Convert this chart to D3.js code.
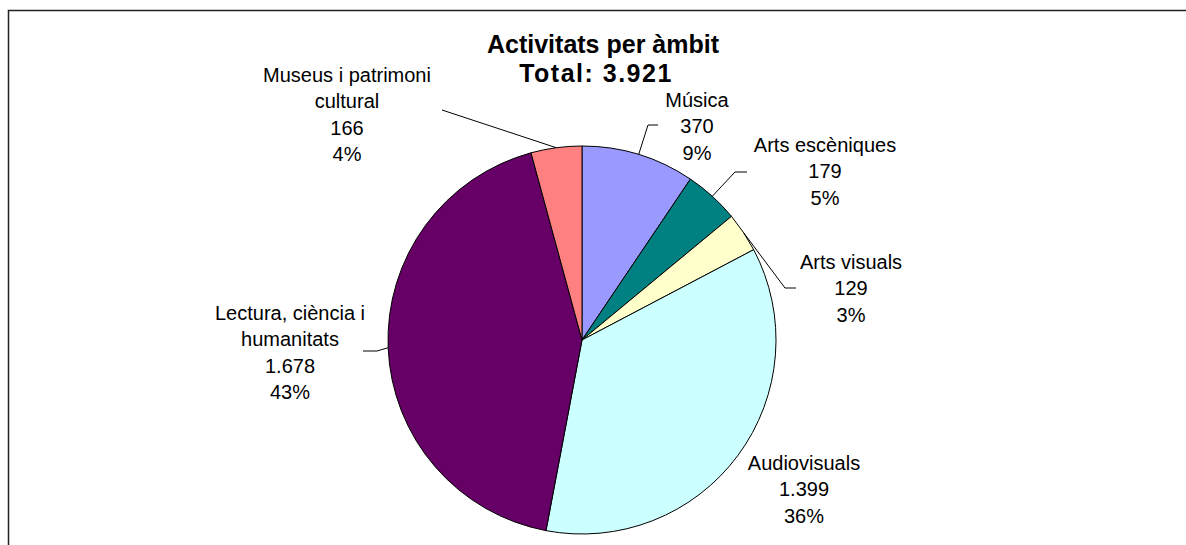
<!DOCTYPE html>
<html>
<head>
<meta charset="utf-8">
<script src="https://cdn.jsdelivr.net/npm/d3@7"></script>
<style>
  body { margin: 0; background: #fff; }
  svg { display: block; font-family: "Liberation Sans", Arial, sans-serif; }
</style>
</head>
<body>
<svg width="1186" height="545"></svg>
<script>
var categories = ["Música", "Arts escèniques", "Arts visuals", "Audiovisuals", "Lectura, ciència i humanitats", "Museus i patrimoni cultural"];
var values = [370, 179, 129, 1399, 1678, 166];
var percents = ["9%", "5%", "3%", "36%", "43%", "4%"];
var valueLabels = ["370", "179", "129", "1.399", "1.678", "166"];
// label text split in lines like the original
var nameLines = [["Música"], ["Arts escèniques"], ["Arts visuals"], ["Audiovisuals"], ["Lectura, ciència i", "humanitats"], ["Museus i patrimoni", "cultural"]];
var colors = ["#9999FF", "#008080", "#FFFFCC", "#CCFFFF", "#660066", "#FF8080"];
var titleLines = ["Activitats per àmbit", "Total: 3.921"];

var svg = d3.select("svg");

var cx = 582, cy = 340, R = 194;
var LINE = 26.3;

// label layout: centre x, first baseline y, leader bend point + end point (null = no leader)
var labelLayout = [
    { x: 697, y: 107, leader: [[648, 125], [658, 125]] },
    { x: 825, y: 152, leader: [[735, 172], [747, 172]] },
    { x: 851, y: 269, leader: [[785, 288], [796, 288]] },
    { x: 804, y: 470, leader: null },
    { x: 290, y: 320, leader: [[377, 351], [363, 351]] },
    { x: 347, y: 82, leader: [[442, 110]] }
];

// chart frame (runs off right/bottom)
svg.append("rect")
    .attr("x", 8.5)
    .attr("y", 10.5)
    .attr("width", 1300)
    .attr("height", 700)
    .attr("fill", "none")
    .attr("stroke", "#222")
    .attr("stroke-width", 1.5);

var pie = d3.pie().sort(null).value(function (d) { return d; });
var arcs = pie(values);
var arc = d3.arc().innerRadius(0).outerRadius(R);

var g = svg.append("g").attr("transform", "translate(" + cx + "," + cy + ")");

g.selectAll("path")
    .data(arcs)
    .enter().append("path")
    .attr("d", arc)
    .attr("fill", function (d, i) { return colors[i]; })
    .attr("stroke", "#000")
    .attr("stroke-width", 1);

// leader lines from slice edge mid point
var line = d3.line();
arcs.forEach(function (a, i) {
    var lay = labelLayout[i];
    if (!lay.leader) return;
    var mid = (a.startAngle + a.endAngle) / 2;
    var p0 = [cx + R * Math.sin(mid), cy - R * Math.cos(mid)];
    svg.append("path")
        .attr("d", line([p0].concat(lay.leader)))
        .attr("fill", "none")
        .attr("stroke", "#000")
        .attr("stroke-width", 1);
});

// labels
arcs.forEach(function (a, i) {
    var lay = labelLayout[i];
    var lines = nameLines[i].concat([valueLabels[i], percents[i]]);
    var t = svg.append("text")
        .attr("text-anchor", "middle")
        .attr("font-size", 20)
        .attr("fill", "#000");
    lines.forEach(function (s, k) {
        t.append("tspan")
            .attr("x", lay.x)
            .attr("y", lay.y + k * LINE)
            .text(s);
    });
});

// title
svg.append("text")
    .attr("text-anchor", "middle")
    .attr("font-size", 25)
    .attr("font-weight", "bold")
    .selectAll("tspan")
    .data(titleLines)
    .enter().append("tspan")
    .attr("x", function (d, i) { return i == 0 ? 603 : 596; })
    .attr("y", function (d, i) { return 53 + i * 29; })
    .attr("letter-spacing", function (d, i) { return i == 0 ? 0 : 1.5; })
    .text(function (d) { return d; });
</script>
</body>
</html>
